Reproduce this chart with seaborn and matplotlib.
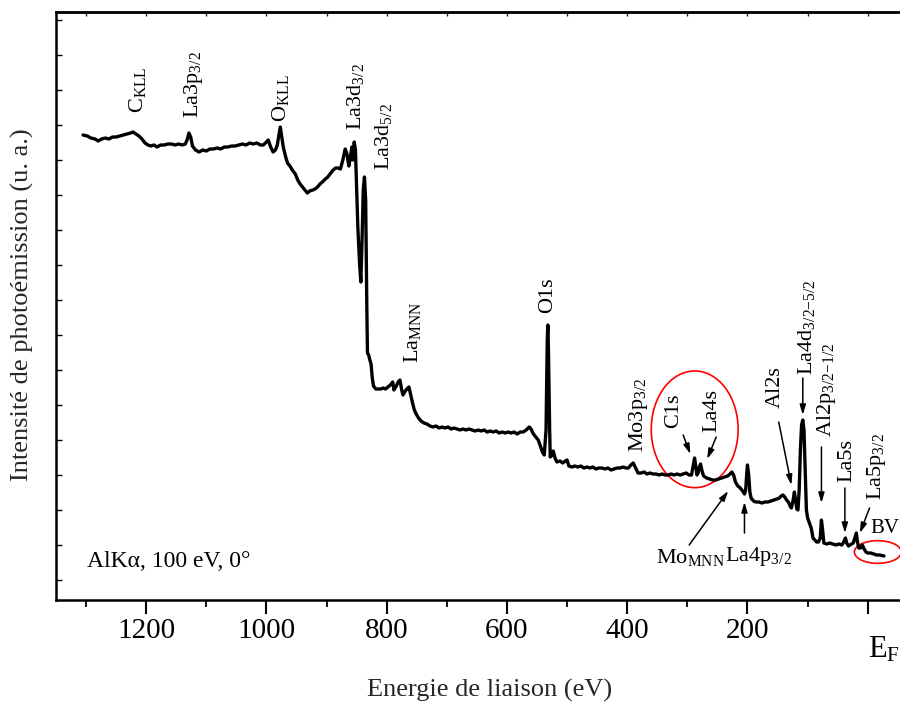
import numpy as np
import pandas as pd
import matplotlib
matplotlib.use("Agg")
import matplotlib.pyplot as plt
import seaborn as sns
from matplotlib.patches import Ellipse
from matplotlib.ticker import MultipleLocator, FixedLocator

# spectrum: binding energy (eV) / intensity (a.u.)
energy = [
    1305, 1298, 1292, 1285, 1280, 1274, 1268, 1262, 1256, 1250, 1244, 1238,
    1232, 1226, 1222, 1217, 1212, 1207, 1202, 1197, 1192, 1187, 1182, 1176,
    1170, 1164, 1158, 1152, 1146, 1140, 1135, 1132, 1129, 1126, 1123, 1118,
    1112, 1106, 1100, 1094, 1088, 1082, 1076, 1070, 1064, 1058, 1052, 1046,
    1040, 1034, 1028, 1022, 1016, 1010, 1005, 1000, 997, 993, 989, 985,
    982, 979, 977, 975, 972, 968, 965, 961, 957, 952, 948, 944,
    940, 936, 932, 928, 923, 919, 915, 911, 907, 902, 898, 893,
    889, 885, 881, 877, 873, 869, 866, 863, 861, 858, 856, 854,
    852, 850, 848, 845, 843, 841, 839, 837, 835, 834, 833, 832,
    830, 828, 826, 824, 822, 818, 814, 810, 806, 802, 798, 794,
    790, 788, 784, 781, 778, 775, 773, 769, 765, 763, 760, 757,
    754, 751, 747, 743, 738, 733, 728, 723, 718, 713, 708, 703,
    698, 693, 688, 683, 678, 673, 668, 663, 658, 653, 648, 643,
    638, 633, 628, 623, 618, 613, 608, 603, 598, 593, 588, 583,
    578, 573, 568, 563, 560, 556, 552, 548, 545, 541, 538, 535,
    533, 532, 531, 529, 528, 525, 523, 520, 517, 512, 507, 503,
    500, 497, 492, 487, 482, 477, 472, 467, 462, 457, 452, 447,
    442, 437, 432, 427, 422, 417, 412, 407, 402, 398, 394, 390,
    386, 382, 377, 372, 367, 362, 357, 352, 347, 342, 337, 332,
    327, 322, 317, 312, 307, 302, 297, 293, 290, 288, 286, 284,
    282, 280, 278, 276, 273, 268, 263, 258, 253, 248, 243, 238,
    233, 229, 226, 223, 220, 216, 212, 208, 205, 203, 201, 200,
    198, 196, 194, 190, 186, 181, 176, 171, 166, 161, 156, 151,
    147, 144, 141, 138, 135, 132, 129, 127, 124, 122, 120, 118,
    116, 114, 112, 110, 108, 106, 104, 102, 100, 97, 94, 91,
    88, 85, 82, 79, 77, 75, 73, 68, 63, 58, 53, 48,
    43, 40, 37, 35, 32, 27, 24, 21, 19, 17, 15, 12,
    9, 6, 3, 0, -5, -10, -15, -20, -27,
]
intensity = [
    465, 464, 462, 461, 459, 461, 462, 461, 463, 463, 464, 465,
    466, 467, 468, 466, 464, 461, 457, 455, 454, 455, 453, 455,
    455, 456, 456, 455, 456, 455, 456, 460, 467, 463, 454, 450,
    448, 450, 449, 451, 451, 452, 451, 453, 453, 454, 454, 455,
    456, 455, 457, 456, 457, 455, 455, 458, 460, 453, 448, 450,
    455, 466, 473, 465, 453, 443, 437, 434, 430, 426, 420, 416,
    413, 410, 407, 409, 410, 411, 413, 416, 418, 421, 423, 427,
    430, 432, 432, 431, 440, 451, 446, 434, 440, 453, 440, 458,
    450, 410, 373, 335, 318, 360, 410, 423, 400, 340, 290, 247,
    245, 240, 236, 222, 214, 211, 211, 211, 212, 211, 213, 215,
    218, 210, 214, 218, 220, 210, 205, 209, 212, 213, 205, 197,
    190, 186, 182, 179, 177, 176, 174, 173, 174, 172, 173, 172,
    173, 171, 172, 171, 170, 171, 170, 171, 170, 169, 170, 169,
    170, 168, 169, 168, 169, 167, 168, 167, 168, 167, 168, 166,
    168, 168, 170, 173, 171, 166, 163, 160, 155, 148, 145, 170,
    260, 275, 250, 170, 143, 145, 149, 142, 138, 139, 137, 139,
    140, 134, 133, 134, 133, 134, 132, 133, 132, 133, 131, 132,
    132, 131, 132, 130, 131, 132, 132, 133, 132, 132, 135, 137,
    132, 127, 127, 128, 126, 127, 126, 126, 125, 126, 125, 125,
    126, 125, 126, 125, 126, 127, 125, 125, 135, 142, 134, 125,
    127, 133, 136, 130, 124, 122, 121, 120, 120, 121, 122, 123,
    124, 126, 128, 125, 118, 114, 112, 109, 106, 110, 128, 135,
    125, 108, 102, 99, 98, 98, 97, 98, 98, 99, 100, 101,
    102, 104, 105, 103, 100, 98, 94, 92, 100, 108, 100, 91,
    90, 110, 150, 175, 180, 170, 130, 90, 82, 77, 72, 62,
    60, 58, 58, 62, 80, 70, 57, 56, 57, 56, 55, 56,
    55, 58, 62, 57, 54, 56, 57, 63, 67, 58, 52, 52,
    55, 51, 48, 47, 47, 46, 45, 45, 44,
]

major_ticks = [1200, 1000, 800, 600, 400, 200, 0]
major_labels = ["1200", "1000", "800", "600", "400", "200", ""]

vertical_labels = [
    r"C$_{\mathrm{KLL}}$", r"La3p$_{\mathrm{3/2}}$", r"O$_{\mathrm{KLL}}$",
    r"La3d$_{\mathrm{3/2}}$", r"La3d$_{\mathrm{5/2}}$", r"La$_{\mathrm{MNN}}$",
    "O1s", r"Mo3p$_{\mathrm{3/2}}$", "C1s", "La4s", "Al2s",
    r"La4d$_{\mathrm{3/2{-}5/2}}$", r"Al2p$_{\mathrm{3/2{-}1/2}}$", "La5s",
    r"La5p$_{\mathrm{3/2}}$",
]
horizontal_labels = [r"Mo$_{\mathrm{MNN}}$", r"La4p$_{\mathrm{3/2}}$", "BV"]

sns.set_theme(style="ticks")
plt.rcParams["font.family"] = ["Liberation Serif", "DejaVu Serif"]
plt.rcParams["mathtext.fontset"] = "custom"
plt.rcParams["mathtext.rm"] = "Liberation Serif"
plt.rcParams["mathtext.it"] = "Liberation Serif:italic"

fig = plt.figure(figsize=(9, 7.05), dpi=100)
ax = fig.add_axes([56 / 900, 105 / 705, 846 / 900, 588 / 705])

sns.lineplot(x=energy, y=intensity, sort=False, estimator=None,
             color="black", lw=2.4, ax=ax)

ax.set_xlim(1350, -57)
ax.set_ylim(0, 588)
ax.set_xlabel("")
ax.set_ylabel("")

# axes decoration
for side in ["left", "bottom", "top"]:
    ax.spines[side].set_linewidth(1.8)
    ax.spines[side].set_color("black")
ax.spines["right"].set_visible(False)

ax.set_xticks(major_ticks)
ax.set_xticklabels(major_labels, fontsize=21)
ax.xaxis.set_minor_locator(MultipleLocator(100))
ax.tick_params(axis="x", which="major", direction="out", length=10,
               width=1.5, pad=3, colors="black")
ax.tick_params(axis="x", which="minor", direction="out", length=5,
               width=1.3, colors="black")
ax.yaxis.set_major_locator(FixedLocator(np.arange(20, 588, 35)))
ax.tick_params(axis="y", direction="in", length=4, width=1.0,
               labelleft=False, colors="black")

top = ax.secondary_xaxis("top")
top.xaxis.set_major_locator(MultipleLocator(100))
top.tick_params(direction="in", length=3, width=1.0, labeltop=False)
top.spines["top"].set_linewidth(1.8)

# peak labels (rotated)
vert_pos = [
    (1215, 487), (1122, 482), (977, 478), (852, 470), (805, 430),
    (757, 237), (533, 287), (382, 148), (323, 172), (260, 168),
    (153, 192), (102, 225), (68, 163), (35, 118), (-15, 100),
]
for txt, (xe, yh) in zip(vertical_labels, vert_pos):
    ax.text(xe, yh, txt, rotation=90, ha="center", va="bottom",
            fontsize=16, color="black")

horiz_pos = [(352, 53, "top", 16), (238, 55, "top", 16), (-5, 62, "bottom", 15)]
for txt, (xe, yh, va, fs) in zip(horizontal_labels, horiz_pos):
    ax.text(xe, yh, txt, ha="left", va=va, fontsize=fs, color="black")

# arrows: tail -> head
arrows = [
    ((307, 165), (295, 146)), ((252, 163), (267, 141)),
    ((297, 55), (232, 109)), ((205, 67), (205, 98)),
    ((148, 178), (127, 115)), ((108, 222), (108, 185)),
    ((77, 153), (77, 97)), ((38, 112), (38, 67)),
    ((-3, 92), (13, 67)),
]
for tail, head in arrows:
    ax.annotate("", xy=head, xytext=tail,
                arrowprops=dict(arrowstyle="-|>,head_length=0.5,head_width=0.15",
                                color="black", lw=1.1, shrinkA=0, shrinkB=0))

ax.add_patch(Ellipse((287.8, 170.7), width=144.5, height=116.7,
                     fill=False, ec="red", lw=1.2))
ax.add_patch(Ellipse((-16.7, 48), width=77.8, height=22.7,
                     fill=False, ec="red", lw=1.2, clip_on=False))

ax.text(1298, 33, "AlKα, 100 eV, 0°", ha="left", va="baseline",
        fontsize=17, color="black")
ax.text(0, -35, r"E$_{\mathrm{F}}$", ha="left", va="top", fontsize=22,
        color="black", clip_on=False)

fig.text(490 / 900, 1 - 690 / 705, "Energie de liaison (eV)",
         ha="center", va="center", fontsize=19)
fig.text(22 / 900, 1 - 305 / 705, "Intensité de photoémission (u. a.)",
         ha="center", va="center", rotation=90, fontsize=19)

fig.savefig("out.png", dpi=100, facecolor="white")
